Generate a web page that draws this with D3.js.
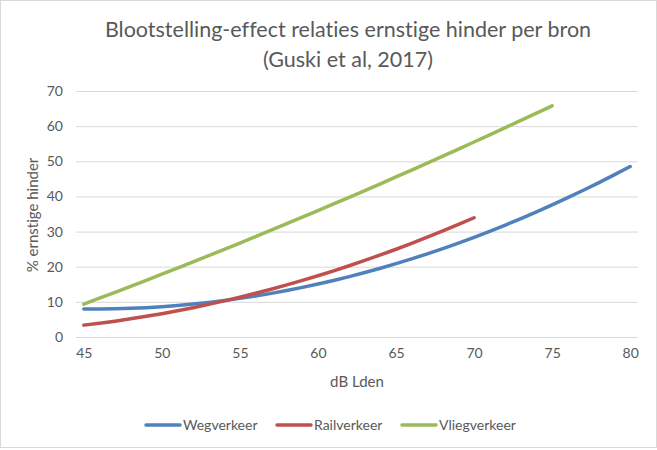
<!DOCTYPE html>
<html><head><meta charset="utf-8">
<script src="https://cdn.jsdelivr.net/npm/d3@7"></script>
<style>
html,body{margin:0;padding:0;background:#fff;}
svg{display:block;font-family:Lato,"Open Sans",sans-serif;font-variant-ligatures:none;font-feature-settings:"liga" 0,"dlig" 0;}
</style></head>
<body><svg id="c" width="657" height="450"></svg>
<script>
const title1 = "Blootstelling-effect relaties ernstige hinder per bron";
const title2 = "(Guski et al, 2017)";
const xTitle = "dB Lden";
const yTitle = "% ernstige hinder";
const dB = d3.range(45, 81);
const xTicks = [45, 50, 55, 60, 65, 70, 75, 80];
const yTicks = [0, 10, 20, 30, 40, 50, 60, 70];
const seriesNames = ["Wegverkeer", "Railverkeer", "Vliegverkeer"];
const seriesColors = ["#4f81bd", "#c0504d", "#9bbb59"];
const wegverkeer = [7.95, 7.95, 8.01, 8.15, 8.35, 8.62, 8.96, 9.36, 9.84, 10.38,
  10.99, 11.67, 12.42, 13.24, 14.12, 15.08, 16.10, 17.19, 18.35, 19.57,
  20.87, 22.23, 23.67, 25.17, 26.74, 28.37, 30.08, 31.85, 33.70, 35.61,
  37.59, 39.64, 41.75, 43.94, 46.19, 48.51];
const railverkeer = [3.38, 3.92, 4.51, 5.17, 5.88, 6.64, 7.46, 8.34, 9.28, 10.28,
  11.33, 12.44, 13.60, 14.82, 16.10, 17.44, 18.83, 20.28, 21.79, 23.35,
  24.97, 26.65, 28.39, 30.18, 32.03, 33.93];
const vliegverkeer = [9.37, 11.04, 12.73, 14.43, 16.14, 17.87, 19.61, 21.37, 23.15, 24.93,
  26.74, 28.55, 30.38, 32.23, 34.09, 35.96, 37.85, 39.75, 41.67, 43.60,
  45.54, 47.50, 49.48, 51.47, 53.47, 55.49, 57.52, 59.57, 61.63, 63.70,
  65.79];
const seriesValues = [wegverkeer, railverkeer, vliegverkeer];

const svg = d3.select("#c");
const textColor = "#595959";
const gridColor = "#d9d9d9";
const ff = "Lato,'Open Sans',sans-serif";

svg.append("rect").attr("x",0.5).attr("y",0.5).attr("width",656).attr("height",447)
  .attr("fill","#fff").attr("stroke","#d9d9d9");

const L = 76, R = 638, T = 91, B = 337;
const x = d3.scaleLinear().domain([44.5, 80.5]).range([L, R]);
const y = d3.scaleLinear().domain([0, 70]).range([B, T]);

// gridlines
const grid = svg.append("g").attr("transform", `translate(${L},0)`)
  .call(d3.axisLeft(y).tickValues(yTicks).tickSize(-(R - L)).tickFormat(""));
grid.select(".domain").remove();
grid.selectAll("line").attr("stroke", gridColor).attr("stroke-width", 1);

// y axis labels
const ya = svg.append("g").attr("transform", `translate(${L},0)`)
  .call(d3.axisLeft(y).tickValues(yTicks).tickSize(0).tickPadding(13));
ya.select(".domain").remove();
ya.selectAll("text").attr("fill", textColor).style("font-size", "14px")
  .style("font-family", ff);

// x axis labels
const xa = svg.append("g").attr("transform", `translate(0,${B})`)
  .call(d3.axisBottom(x).tickValues(xTicks).tickSize(0).tickPadding(11));
xa.select(".domain").remove();
xa.selectAll("text").attr("fill", textColor).style("font-size", "14px")
  .style("font-family", ff);

// lines
const line = d3.line().x((d, i) => x(dB[i])).y(d => y(d));
seriesValues.forEach((vals, k) => {
  svg.append("path").datum(vals).attr("d", line)
    .attr("fill", "none").attr("stroke", seriesColors[k])
    .attr("stroke-width", 3.5).attr("stroke-linecap", "round").attr("stroke-linejoin", "round");
});

// titles
svg.append("text").attr("x", 348).attr("y", 37).attr("text-anchor", "middle")
  .attr("fill", textColor).style("font-size", "21.5px").text(title1);
svg.append("text").attr("x", 348).attr("y", 67).attr("text-anchor", "middle")
  .attr("fill", textColor).style("font-size", "21.5px").text(title2);

svg.append("text").attr("x", 357).attr("y", 387).attr("text-anchor", "middle")
  .attr("fill", textColor).style("font-size", "15px").text(xTitle);
svg.append("text").attr("transform", "translate(38,215) rotate(-90)").attr("text-anchor", "middle")
  .attr("fill", textColor).style("font-size", "15px").text(yTitle);

// legend
const legX = [146, 277, 402];
seriesNames.forEach((n, k) => {
  const g = svg.append("g").attr("transform", `translate(${legX[k]},425)`);
  g.append("line").attr("x1", 0).attr("x2", 34).attr("y1", 0).attr("y2", 0)
    .attr("stroke", seriesColors[k]).attr("stroke-width", 3.5).attr("stroke-linecap", "round");
  g.append("text").attr("x", 37).attr("y", 5).attr("fill", textColor)
    .style("font-size", "14px").text(n);
});
</script></body></html>
